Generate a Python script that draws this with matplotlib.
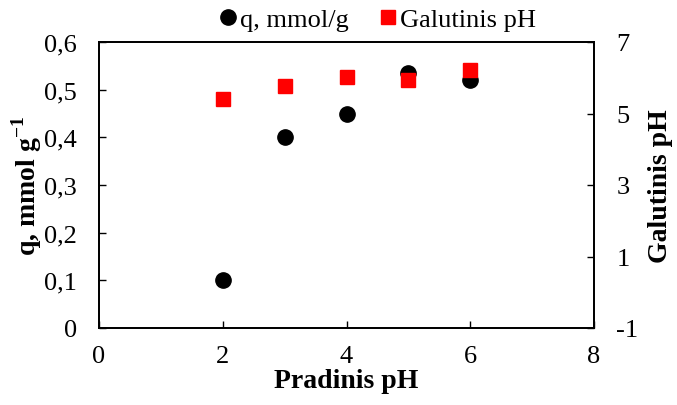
import matplotlib
matplotlib.use("Agg")
import matplotlib.pyplot as plt
from matplotlib.ticker import FuncFormatter

plt.rcParams['font.family'] = ['Liberation Serif', 'DejaVu Serif']
plt.rcParams['axes.unicode_minus'] = False
plt.rcParams['mathtext.fontset'] = 'custom'
plt.rcParams['mathtext.rm'] = 'Liberation Serif'
plt.rcParams['mathtext.bf'] = 'Liberation Serif:bold'

initial_ph = [2, 3, 4, 5, 6]
q_values = [0.10, 0.40, 0.45, 0.536, 0.52]
final_ph = [5.41, 5.78, 6.01, 5.94, 6.23]

fig = plt.figure(figsize=(6.77, 4.06), dpi=100)
ax = fig.add_axes([99/677, 1-329/406, (594-99)/677, (329-43)/406])
ax2 = ax.twinx()

l1, = ax.plot(initial_ph, q_values, 'o', color='black', markersize=11, linestyle='none', label='q, mmol/g', zorder=3)
l2, = ax2.plot(initial_ph, final_ph, 's', color='#ff0000', markersize=10.5, linestyle='none', label='Galutinis pH', zorder=3)

ax.set_xlim(0, 8)
ax.set_ylim(0, 0.6)
ax2.set_ylim(-1, 7)
ax.set_xticks([0, 2, 4, 6, 8])
ax.set_yticks([0, 0.1, 0.2, 0.3, 0.4, 0.5, 0.6])
ax2.set_yticks([-1, 1, 3, 5, 7])

def comma(v, pos):
    s = f"{v:.1f}".replace('.', ',')
    if abs(v) < 1e-9:
        s = "0"
    return s
ax.yaxis.set_major_formatter(FuncFormatter(comma))

for a in (ax, ax2):
    a.tick_params(direction='in', length=5, width=1, labelsize=19)
    for sp in a.spines.values():
        sp.set_linewidth(1.3)
ax.tick_params(axis='x', pad=12)
ax.tick_params(axis='y', pad=16)
ax2.tick_params(axis='y', pad=16)

ax.set_xlabel('Pradinis pH', fontsize=20, fontweight='bold', labelpad=1)
ax.set_ylabel('q, mmol g$^{\\mathbf{-1}}$', fontsize=20, fontweight='bold', labelpad=0)
ax2.set_ylabel('Galutinis pH', fontsize=20, fontweight='bold', labelpad=7)

fig.legend(handles=[l1, l2], loc='center', bbox_to_anchor=(378/677, 1-20/406),
           ncol=2, frameon=False, fontsize=19, handlelength=0.6, handletextpad=0.15,
           columnspacing=1.2, borderaxespad=0)

fig.savefig('out.png', dpi=100)
